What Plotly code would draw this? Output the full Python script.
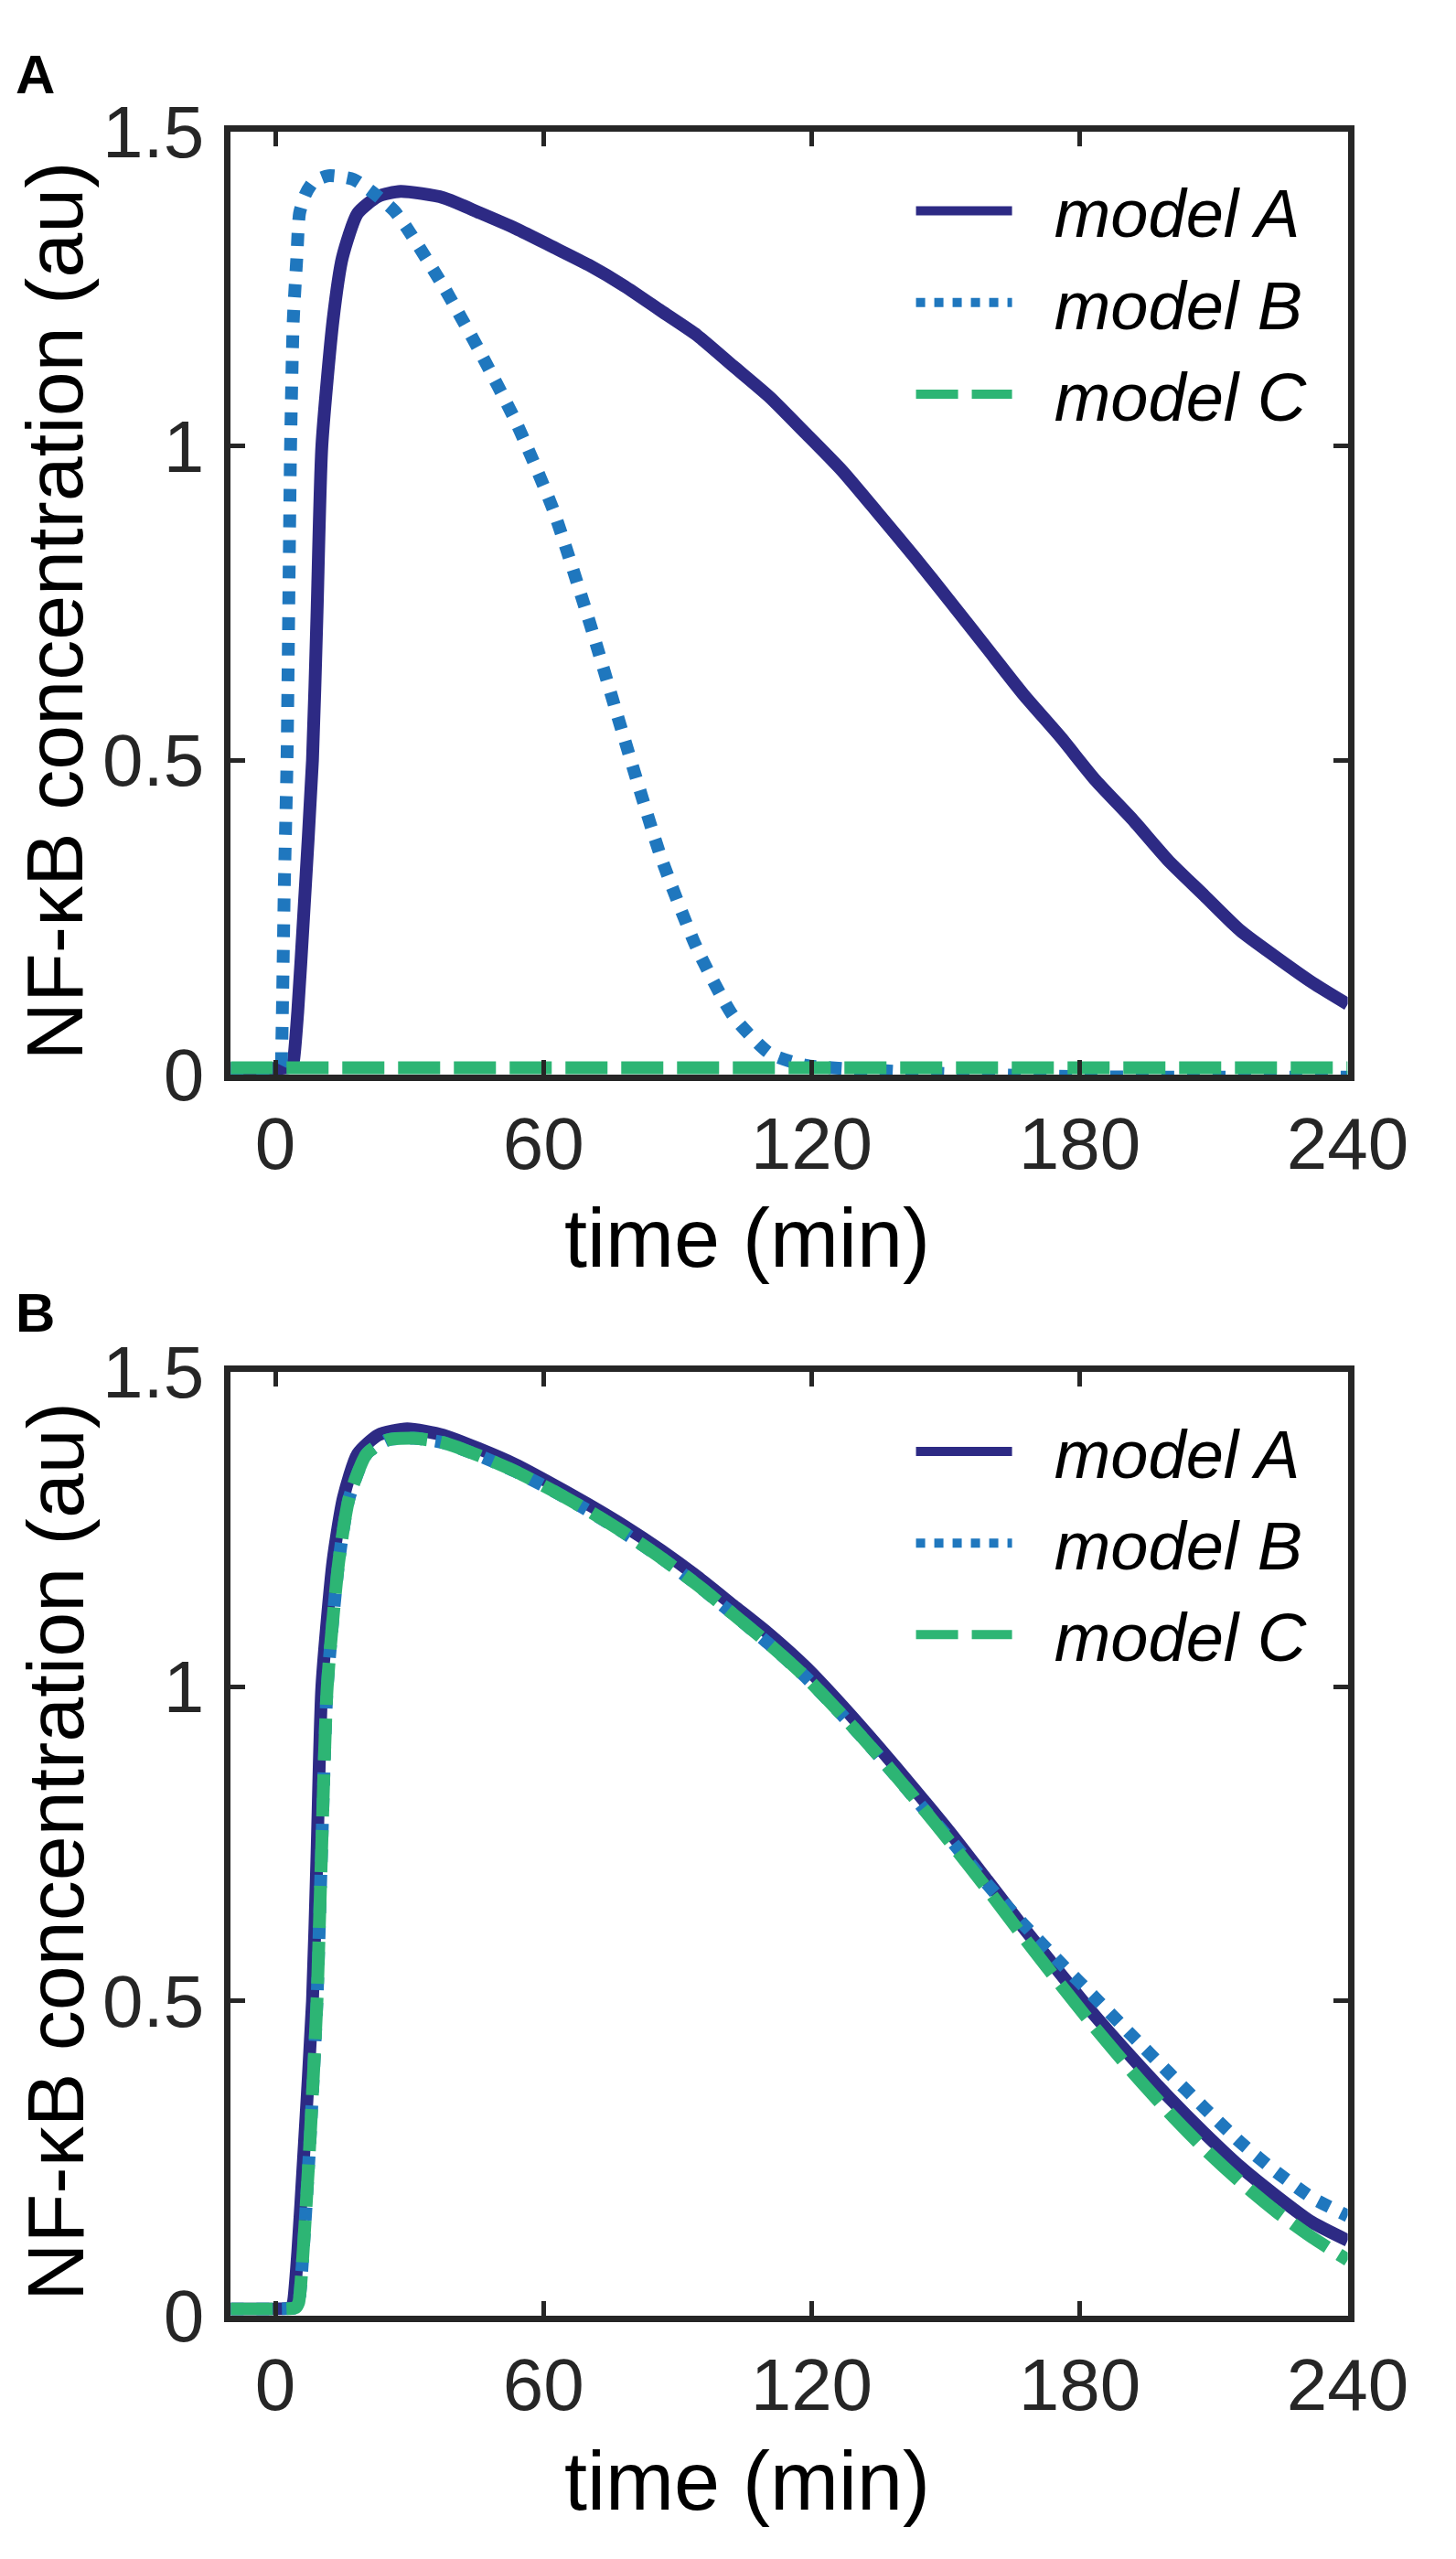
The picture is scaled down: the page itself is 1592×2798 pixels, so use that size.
import plotly.graph_objects as go

# ── Data ──────────────────────────────────────────────────────────────────
# Panel A
t_a_modelA = [-10, 0, 3.5, 4.0, 5.0, 6.3, 8.3, 9.3, 10.4, 12.9, 15.0, 18.4, 23.0, 28.0,
              37.6, 45.7, 53.8, 62.0, 70.1, 78.2, 86.3, 94.4, 102.5, 110.6, 118.7,
              126.8, 134.9, 143.0, 151.2, 159.3, 167.4, 175.5, 183.6, 191.7, 199.8,
              207.9, 216.0, 224.0, 232.2, 240]
y_a_modelA = [0.01, 0.01, 0.012, 0.02, 0.10, 0.25, 0.50, 0.73, 1.00, 1.20, 1.30, 1.37, 1.397, 1.405,
              1.395, 1.371, 1.346, 1.317, 1.288, 1.254, 1.215, 1.176, 1.127, 1.078, 1.020,
              0.961, 0.893, 0.824, 0.751, 0.678, 0.605, 0.539, 0.468, 0.407, 0.341,
              0.285, 0.229, 0.187, 0.146, 0.112]

t_a_modelB = [-10, 0, 1.2, 1.4, 2.0, 2.6, 3.4, 4.0, 4.8, 5.4, 6.7, 8.5, 11.9, 17.5, 22.4,
              26.6, 29.5, 37.6, 45.7, 53.8, 62.0, 70.0, 78.2, 86.3, 94.4, 102.5, 110.6,
              118.7, 135, 150, 180, 240]
y_a_modelB = [0.01, 0.01, 0.015, 0.04, 0.30, 0.50, 1.00, 1.20, 1.30, 1.37, 1.40, 1.42, 1.43, 1.424, 1.40,
              1.374, 1.346, 1.254, 1.151, 1.039, 0.902, 0.727, 0.532, 0.346, 0.200, 0.093, 0.034,
              0.015, 0.007, 0.002, -0.003, -0.004]

t_a_modelC = [-10, 240]
y_a_modelC = [0.011, 0.011]

# Panel B
t_b_modelA = [-10, 0, 3.5, 4.0, 5.0, 6.3, 8.3, 9.3, 10.4, 12.9, 15.2, 18.4, 23.0, 29.5,
              37.6, 45.7, 53.8, 62.0, 70.0, 78.2, 86.3, 94.4, 102.5, 110.6, 118.7,
              126.8, 135.0, 143.0, 151.0, 159.3, 167.4, 175.5, 183.6, 191.7, 199.8,
              207.9, 216.0, 224.0, 232.0, 240]
y_b_modelA = [0.01, 0.01, 0.012, 0.02, 0.10, 0.25, 0.50, 0.73, 1.00, 1.20, 1.30, 1.37, 1.40, 1.41,
              1.400, 1.378, 1.353, 1.322, 1.290, 1.255, 1.217, 1.175, 1.129, 1.083, 1.031,
              0.970, 0.904, 0.837, 0.768, 0.692, 0.617, 0.545, 0.475, 0.410, 0.348,
              0.290, 0.236, 0.190, 0.148, 0.119]

t_b_modelB = [-10, 0, 4.5, 5.2, 6.0, 7.6, 9.3, 10.3, 11.6, 14.2, 16.5, 20.4, 25.0, 31.0,
              37.6, 45.7, 53.8, 62.0, 70.0, 78.2, 86.3, 94.4, 102.5, 110.6, 118.7,
              126.8, 135.0, 143.0, 151.0, 159.3, 167.4, 175.5, 183.6, 191.7, 199.8,
              207.9, 216.0, 224.0, 232.0, 240]
y_b_modelB = [0.01, 0.01, 0.012, 0.02, 0.08, 0.26, 0.50, 0.73, 1.00, 1.20, 1.30, 1.37, 1.392, 1.395,
              1.388, 1.367, 1.342, 1.312, 1.280, 1.244, 1.205, 1.162, 1.115, 1.067, 1.015,
              0.955, 0.890, 0.823, 0.757, 0.686, 0.622, 0.562, 0.504, 0.445, 0.387,
              0.330, 0.275, 0.228, 0.187, 0.158]

t_b_modelC = t_b_modelB
y_b_modelC = [0.01, 0.01, 0.012, 0.02, 0.08, 0.26, 0.50, 0.73, 1.00, 1.20, 1.30, 1.37, 1.392, 1.395,
              1.388, 1.367, 1.342, 1.312, 1.280, 1.244, 1.205, 1.162, 1.115, 1.067, 1.015,
              0.955, 0.890, 0.823, 0.753, 0.678, 0.602, 0.528, 0.456, 0.388, 0.324,
              0.265, 0.212, 0.165, 0.124, 0.088]

x_ticks = [0, 60, 120, 180, 240]
y_ticks = [0, 0.5, 1, 1.5]
y_ticktext = ["0", "0.5", "1", "1.5"]
model_names = ["model A", "model B", "model C"]

# ── Style ─────────────────────────────────────────────────────────────────
KLEUREN = ["#2D2A84", "#1F77BE", "#2DB574"]
DASHES = ["solid", "dot", "46px,15px"]
LW = 14
AS_KLEUR = "#262626"
FONT = "Arial, Liberation Sans, sans-serif"

W, H = 1592, 2798
PLOT_X = [255 / W, 1530 / W]
PANEL_A_Y = [1 - 1160 / H, 1 - 95 / H]
PANEL_B_Y = [1 - 2561 / H, 1 - 1496 / H]

fig = go.Figure()

panels = [
    ("x", "y", "legend", [(t_a_modelA, y_a_modelA), (t_a_modelB, y_a_modelB), (t_a_modelC, y_a_modelC)]),
    ("x2", "y2", "legend2", [(t_b_modelA, y_b_modelA), (t_b_modelB, y_b_modelB), (t_b_modelC, y_b_modelC)]),
]

for xa, ya, lg, series in panels:
    for (t, y), naam, kleur, dash in zip(series, model_names, KLEUREN, DASHES):
        fig.add_trace(go.Scatter(
            x=t, y=y, mode="lines",
            name="\u00a0\u00a0" + naam,          # a little room between sample and text
            legendgroup=f"{lg}-{naam}",
            line=dict(color=kleur, width=LW, dash=dash, shape="spline", smoothing=0.6),
            xaxis=xa, yaxis=ya, legend=lg,
            hoverinfo="skip",
        ))

as_stijl = dict(
    showline=True, linewidth=7, linecolor=AS_KLEUR, mirror="ticks",
    ticks="inside", ticklen=16, tickwidth=5, tickcolor=AS_KLEUR,
    showgrid=False, zeroline=False,
    tickfont=dict(family=FONT, size=80, color=AS_KLEUR),
    ticklabeloverflow="allow",
)
x_stijl = dict(range=[-10, 240], tickvals=x_ticks, ticklabelstandoff=0, **as_stijl)
y_stijl = dict(range=[0, 1.5], tickvals=y_ticks, ticktext=y_ticktext, ticklabelstandoff=6, **as_stijl)

fig.update_layout(
    width=W, height=H,
    margin=dict(l=0, r=0, t=0, b=0),
    paper_bgcolor="white", plot_bgcolor="white",
    font=dict(family=FONT, color="black"),
    xaxis=dict(domain=PLOT_X, anchor="y", **x_stijl),
    yaxis=dict(domain=PANEL_A_Y, anchor="x", **y_stijl),
    xaxis2=dict(domain=PLOT_X, anchor="y2", **x_stijl),
    yaxis2=dict(domain=PANEL_B_Y, anchor="x2", **y_stijl),
    showlegend=True,
)

leg_stijl = dict(
    x=1032 / W, xanchor="left", yanchor="top",
    itemwidth=105, tracegroupgap=1,
    bgcolor="rgba(0,0,0,0)", borderwidth=0,
    font=dict(family=FONT, size=74, color="black", style="italic"),
)
fig.update_layout(
    legend=dict(y=1 - 128 / H, **leg_stijl),
    legend2=dict(y=1 - 1529 / H, **leg_stijl),
)

# ── Axis titles and panel letters ─────────────────────────────────────────
for yc_t, yc_x, yc_l, letter in [(636, 1345, 30, "A"), (2037, 2748, 1429, "B")]:
    fig.add_annotation(
        text="NF-\u03baB concentration (au)", textangle=-90,
        xref="paper", yref="paper", x=54 / W, y=1 - yc_t / H,
        xanchor="center", yanchor="middle", showarrow=False,
        font=dict(family=FONT, size=88, color="black"),
    )
    fig.add_annotation(
        text="time (min)",
        xref="paper", yref="paper", x=845 / W, y=1 - yc_x / H,
        xanchor="center", yanchor="middle", showarrow=False,
        font=dict(family=FONT, size=90, color="black"),
    )
    fig.add_annotation(
        text=f"<b>{letter}</b>",
        xref="paper", yref="paper", x=32 / W, y=1 - yc_l / H,
        xanchor="center", yanchor="middle", showarrow=False,
        font=dict(family=FONT, size=60, color="black"),
    )

fig.write_html("out.html")
